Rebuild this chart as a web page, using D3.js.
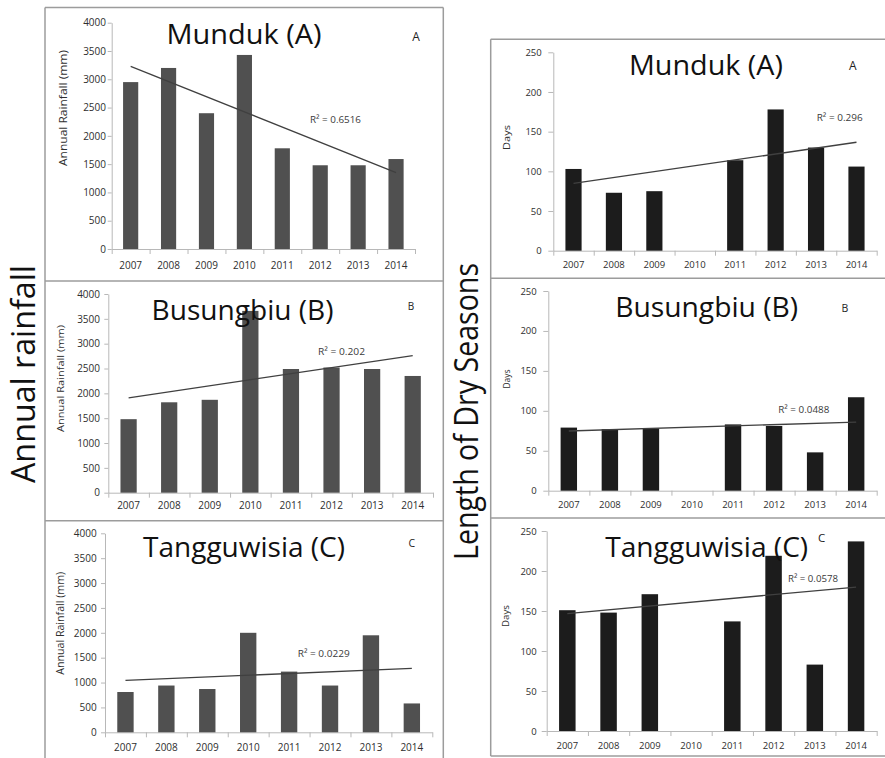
<!DOCTYPE html>
<html>
<head>
<meta charset="utf-8">
<script src="https://cdn.jsdelivr.net/npm/d3@7"></script>
<style>
  html, body { margin: 0; padding: 0; background: #fff; }
  svg { display: block; font-family: "Open Sans", "Noto Sans", sans-serif; }
</style>
</head>
<body>
<svg id="chart" width="885" height="758"></svg>
<script>
// ---- data ----
const years = ["2007", "2008", "2009", "2010", "2011", "2012", "2013", "2014"];

// annual rainfall (mm)
const rainMunduk      = [2950, 3200, 2400, 3430, 1780, 1480, 1480, 1590];
const rainBusungbiu   = [1480, 1820, 1870, 3660, 2490, 2520, 2490, 2350];
const rainTangguwisia = [810, 940, 870, 2000, 1220, 940, 1950, 580];

// length of dry season (days); no record for 2010
const dryMunduk      = [103, 73, 75, null, 114, 178, 130, 106];
const dryBusungbiu   = [79, 77, 78, null, 83, 81, 48, 117];
const dryTangguwisia = [151, 148, 171, null, 137, 219, 83, 237];

const rainTicks = [0, 500, 1000, 1500, 2000, 2500, 3000, 3500, 4000];
const dayTicks  = [0, 50, 100, 150, 200, 250];

const stations = ["Munduk (A)", "Busungbiu (B)", "Tangguwisia (C)"];
const stationLetters = ["A", "B", "C"];
const rainR2 = ["0.6516", "0.202", "0.0229"];
const dryR2  = ["0.296", "0.0488", "0.0578"];

const rainTitle = "Annual Rainfall (mm)";
const dayTitle = "Days";

// ---- drawing ----
const svg = d3.select("#chart");
const frameColor = "#9c9c9c";
const axisColor = "#b8b8b8";
const labelColor = "#2e2e2e";

// outer frames of the two columns
const frames = svg.append("g").attr("stroke", frameColor).attr("stroke-width", 1.5).attr("fill", "none");
[[45, 7.5, 45, 758], [443.3, 7.5, 443.3, 758], [45, 7.5, 443.3, 7.5],
 [45, 281, 443.3, 281], [45, 520.7, 443.3, 520.7],
 [490.7, 39.3, 490.7, 756], [490.7, 39.3, 885, 39.3], [490.7, 278.3, 885, 278.3],
 [490.7, 518, 885, 518], [490.7, 756, 885, 756]]
  .forEach(([x1, y1, x2, y2]) => frames.append("line")
    .attr("x1", x1).attr("y1", y1).attr("x2", x2).attr("y2", y2));

// column headings
svg.append("text")
  .attr("transform", "translate(35,374) rotate(-90)")
  .attr("text-anchor", "middle").attr("font-size", 32).attr("fill", "#111")
  .attr("textLength", 218).attr("lengthAdjust", "spacingAndGlyphs")
  .text("Annual rainfall");
svg.append("text")
  .attr("transform", "translate(478,411.5) rotate(-90)")
  .attr("text-anchor", "middle").attr("font-size", 32).attr("fill", "#111")
  .attr("textLength", 297).attr("lengthAdjust", "spacingAndGlyphs")
  .text("Length of Dry Seasons");

// least-squares trend over the years that have a value
function trend(vals) {
  const pts = vals.map((v, i) => [i, v]).filter(d => d[1] != null);
  const mx = d3.mean(pts, d => d[0]), my = d3.mean(pts, d => d[1]);
  const sxy = d3.sum(pts, d => (d[0] - mx) * (d[1] - my));
  const sxx = d3.sum(pts, d => (d[0] - mx) ** 2);
  const b = sxy / sxx, a = my - b * mx;
  const i0 = pts[0][0], i1 = pts[pts.length - 1][0];
  return [[i0, a + b * i0], [i1, a + b * i1]];
}

function panel(p) {
  const g = svg.append("g");
  const x = d3.scaleBand().domain(years).range([p.x0, p.x1]).paddingInner(0.6).paddingOuter(0.3);
  const y = d3.scaleLinear().domain([0, p.ticks[p.ticks.length - 1]]).range([p.yb, p.yt]);
  const slot = d3.scaleLinear().domain([0, years.length]).range([p.x0, p.x1]);

  // y axis
  g.append("g").attr("transform", `translate(${p.x0},0)`)
    .call(d3.axisLeft(y).tickValues(p.ticks).tickFormat(d3.format("d"))
      .tickSize(p.tickLen).tickSizeOuter(0).tickPadding(p.gap - p.tickLen))
    .call(s => {
      s.attr("font-family", null).attr("font-size", p.tickFs);
      s.select(".domain").attr("stroke", axisColor);
      s.selectAll(".tick line").attr("stroke", axisColor);
      s.selectAll(".tick text").attr("fill", labelColor);
    });

  // x axis: boundary ticks, then centred year labels
  g.append("g").attr("transform", `translate(0,${p.yb})`)
    .call(d3.axisBottom(slot).tickValues(d3.range(years.length + 1)).tickFormat("")
      .tickSize(5).tickSizeOuter(0))
    .call(s => {
      s.select(".domain").attr("stroke", axisColor);
      s.selectAll(".tick line").attr("stroke", axisColor);
    });
  g.append("g").attr("transform", `translate(0,${p.yb})`)
    .call(d3.axisBottom(x).tickSize(0).tickPadding(p.xpad))
    .call(s => {
      s.attr("font-family", null).attr("font-size", p.tickFs);
      s.select(".domain").remove();
      s.selectAll(".tick text").attr("fill", labelColor);
    });

  // bars
  g.append("g").selectAll("rect")
    .data(years.map((yr, i) => ({ yr, v: p.vals[i] })).filter(d => d.v != null))
    .join("rect")
    .attr("x", d => x(d.yr)).attr("width", x.bandwidth())
    .attr("y", d => y(d.v)).attr("height", d => y(0) - y(d.v))
    .attr("fill", p.fill);

  // linear trend
  const t = trend(p.vals);
  g.append("line")
    .attr("x1", x(years[t[0][0]]) + x.bandwidth() / 2).attr("y1", y(t[0][1]))
    .attr("x2", x(years[t[1][0]]) + x.bandwidth() / 2).attr("y2", y(t[1][1]))
    .attr("stroke", "#404040").attr("stroke-width", 1.3);

  // R² label
  g.append("text").attr("x", p.rx).attr("y", p.rby)
    .attr("font-size", 9.5).attr("fill", "#3a3a3a")
    .attr("textLength", p.rw).attr("lengthAdjust", "spacingAndGlyphs")
    .text("R\u00B2 = " + p.r2);

  // station title and corner letter
  g.append("text").attr("x", p.tcx).attr("y", p.tby)
    .attr("text-anchor", "middle").attr("font-size", 28).attr("fill", "#111")
    .attr("textLength", p.tw).attr("lengthAdjust", "spacingAndGlyphs")
    .text(p.title);
  g.append("text").attr("x", p.lx).attr("y", p.lby)
    .attr("text-anchor", "middle").attr("font-size", p.lfs).attr("fill", "#222")
    .text(p.letter);

  // y-axis title
  g.append("text")
    .attr("transform", `translate(${p.ytx},${p.ytcy}) rotate(-90)`)
    .attr("text-anchor", "middle").attr("font-size", p.ytfs).attr("fill", "#2e2e2e")
    .attr("textLength", p.ytw).attr("lengthAdjust", "spacingAndGlyphs")
    .text(p.ylab);
}

const leftBase = { ticks: rainTicks, ylab: rainTitle, fill: "#505050", tickLen: 4, tickFs: 10 };
const rightBase = { ticks: dayTicks, ylab: dayTitle, fill: "#1c1c1c", tickLen: 5, tickFs: 9.5 };

[
  { ...leftBase, vals: rainMunduk, r2: rainR2[0], title: stations[0], letter: stationLetters[0],
    x0: 111.7, x1: 415, yt: 22.7, yb: 249, gap: 5.7, xpad: 12.5,
    tcx: 244, tby: 44, tw: 155, lx: 416, lby: 40.7, lfs: 12,
    rx: 310, rby: 122.7, rw: 51, ytx: 67, ytcy: 108, ytw: 116, ytfs: 11 },
  { ...leftBase, vals: rainBusungbiu, r2: rainR2[1], title: stations[1], letter: stationLetters[1],
    x0: 108.3, x1: 433, yt: 294, yb: 492.7, gap: 8.3, xpad: 9.5,
    tcx: 242.5, tby: 320, tw: 182, lx: 411, lby: 310, lfs: 10,
    rx: 318, rby: 355, rw: 47, ytx: 64, ytcy: 378.5, ytw: 107, ytfs: 9.5 },
  { ...leftBase, vals: rainTangguwisia, r2: rainR2[2], title: stations[2], letter: stationLetters[2],
    x0: 105, x1: 432.3, yt: 533.3, yb: 732.3, gap: 8.3, xpad: 11.5,
    tcx: 244, tby: 556.7, tw: 202, lx: 411.7, lby: 547, lfs: 10.5,
    rx: 297.7, rby: 656.7, rw: 52, ytx: 64, ytcy: 623.3, ytw: 103, ytfs: 10 },
  { ...rightBase, vals: dryMunduk, r2: dryR2[0], title: stations[0], letter: stationLetters[0],
    x0: 553.3, x1: 876.7, yt: 52.3, yb: 250.7, gap: 11.6, xpad: 10.8,
    tcx: 706, tby: 75, tw: 154, lx: 852.7, lby: 70, lfs: 12,
    rx: 816.7, rby: 120.7, rw: 46, ytx: 510, ytcy: 137.5, ytw: 25, ytfs: 9.5 },
  { ...rightBase, vals: dryBusungbiu, r2: dryR2[1], title: stations[1], letter: stationLetters[1],
    x0: 548.3, x1: 876.7, yt: 291, yb: 490.7, gap: 11.6, xpad: 10.8,
    tcx: 706.7, tby: 317.3, tw: 183, lx: 845, lby: 312.3, lfs: 10.5,
    rx: 778.3, rby: 413.3, rw: 51, ytx: 510, ytcy: 379, ytw: 19, ytfs: 8.5 },
  { ...rightBase, vals: dryTangguwisia, r2: dryR2[2], title: stations[2], letter: stationLetters[2],
    x0: 546.7, x1: 876.7, yt: 531, yb: 731, gap: 10, xpad: 10.8,
    tcx: 706.7, tby: 556.7, tw: 203, lx: 821.7, lby: 541.7, lfs: 11.5,
    rx: 788, rby: 581.7, rw: 50, ytx: 509, ytcy: 616, ytw: 22, ytfs: 9 }
].forEach(panel);
</script>
</body>
</html>
